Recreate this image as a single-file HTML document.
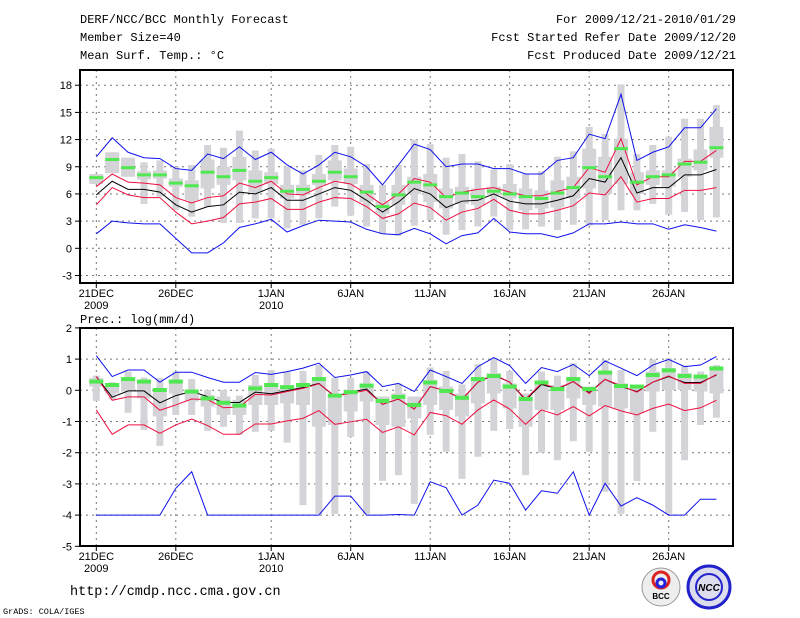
<!DOCTYPE html>
<html><head><meta charset="utf-8"><style>
body{margin:0;background:#fff;width:800px;height:618px;overflow:hidden}
svg{display:block}
text{font-family:"Liberation Sans",sans-serif;fill:#000}
.m{font-family:"Liberation Mono",monospace}
</style></head><body>
<svg id="c" width="800" height="618">
<text class="m" x="80" y="23" font-size="12">DERF/NCC/BCC Monthly Forecast</text>
<text class="m" x="80" y="41" font-size="12">Member Size=40</text>
<text class="m" x="80" y="59" font-size="12">Mean Surf. Temp.: °C</text>
<text class="m" x="736" y="23" font-size="12" text-anchor="end">For 2009/12/21-2010/01/29</text>
<text class="m" x="736" y="41" font-size="12" text-anchor="end">Fcst Started Refer Date 2009/12/20</text>
<text class="m" x="736" y="59" font-size="12" text-anchor="end">Fcst Produced Date 2009/12/21</text>
<text class="m" x="80" y="323" font-size="12">Prec.: log(mm/d)</text>
<text class="m" x="70" y="595" font-size="13.5">http://cmdp.ncc.cma.gov.cn</text>
<text class="m" x="3" y="614" font-size="8.5">GrADS: COLA/IGES</text>
<g><circle cx="661" cy="587" r="19" fill="#eee" stroke="#999"/><circle cx="661" cy="580" r="8" fill="none" stroke="#d22" stroke-width="3"/><circle cx="661" cy="583" r="4" fill="none" stroke="#22d" stroke-width="3"/><text x="661" y="599" font-size="8" text-anchor="middle" font-weight="bold">BCC</text></g>
<g><circle cx="709" cy="587" r="21" fill="#dde" stroke="#22c" stroke-width="3"/><circle cx="709" cy="587" r="13" fill="none" stroke="#22c" stroke-width="2"/><text x="709" y="591" font-size="10" text-anchor="middle" fill="#22c" font-style="italic" font-weight="bold">NCC</text></g>
</svg>
<script>
// ---------- Temperature panel data ----------
const tBlueUp=[10.1,12.2,10.6,10.0,9.9,8.8,8.6,10.4,9.9,11.2,9.8,10.6,9.2,8.2,9.2,10.6,10.1,9.0,7.0,9.2,11.5,10.9,9.0,9.3,9.3,8.8,8.8,8.2,8.2,9.7,10.0,12.6,12.1,17.0,9.7,10.6,11.2,13.3,13.3,15.4];
const tBlueLo=[1.6,3.0,2.8,2.7,2.7,1.1,-0.5,-0.5,0.6,2.3,2.7,3.2,1.8,2.5,3.1,3.0,2.9,2.1,1.6,1.5,2.2,1.6,0.5,1.4,1.7,3.3,1.8,1.6,1.6,1.2,1.7,2.7,2.7,2.9,2.7,2.7,2.1,2.6,2.3,1.9];
const tRedUp=[6.8,8.2,7.3,7.2,7.0,5.6,5.0,5.6,5.8,7.2,6.7,7.4,6.0,5.9,6.7,7.4,7.1,6.0,4.8,6.0,7.7,7.3,5.6,6.2,6.5,6.7,6.2,5.8,5.8,6.3,6.7,8.9,8.4,12.1,7.0,7.9,7.9,9.6,9.6,10.8];
const tMean=[5.9,7.4,6.5,6.5,6.2,4.8,4.0,4.6,4.8,6.2,6.0,6.7,5.3,5.3,6.0,6.7,6.4,5.3,4.0,5.1,6.6,6.0,4.5,5.2,5.3,6.0,5.2,4.9,4.9,5.3,5.8,7.7,7.3,10.0,6.1,6.7,6.7,8.1,8.1,8.7];
const tRedLo=[4.8,6.7,5.9,5.6,5.6,4.0,2.7,3.0,3.4,4.9,5.1,5.5,4.3,4.3,5.1,5.6,5.5,4.6,3.3,3.8,5.0,4.5,3.1,4.0,4.4,5.4,4.2,3.8,3.8,4.2,4.7,6.1,5.9,7.9,5.1,5.5,5.5,6.4,6.4,6.7];
const tObs=[7.8,9.8,8.9,8.1,8.1,7.2,6.9,8.4,7.9,8.6,7.4,7.8,6.3,6.5,7.4,8.4,7.9,6.2,4.6,5.9,7.3,7.0,5.7,6.1,5.7,6.3,6.0,5.7,5.5,6.1,6.7,8.9,7.9,11.0,7.3,7.9,8.1,9.3,9.5,11.1];
const tMax=[8.2,10.6,10.0,9.5,9.7,9.0,9.2,11.4,11.1,13.0,10.8,11.0,9.0,8.6,10.3,11.4,11.2,9.3,7.0,9.2,12.0,11.5,10.0,10.4,9.6,8.7,9.3,8.2,8.5,10.1,10.7,13.4,12.6,18.1,10.4,11.4,12.3,14.3,14.3,15.8];
const tMin=[7.1,8.3,7.9,4.9,5.7,4.2,3.5,4.6,2.8,2.8,3.3,3.3,2.2,2.6,3.3,4.6,3.6,2.4,1.6,1.4,2.5,3.1,1.5,2.0,2.4,3.5,2.0,2.1,2.4,2.0,2.6,2.5,3.1,4.2,4.2,4.9,3.7,4.0,3.1,3.4];
const tQ3=[8.2,10.6,10.0,8.5,8.6,7.7,7.5,9.8,9.0,10.1,8.6,8.4,7.0,7.0,8.2,9.7,8.8,7.0,5.1,7.0,7.9,8.2,6.6,6.8,6.6,6.8,7.1,6.6,6.4,7.5,7.9,11.0,10.1,12.1,8.4,8.6,8.6,9.9,10.9,13.4];
const tQ1=[7.1,8.3,7.9,7.6,7.7,6.8,5.3,6.6,7.0,7.5,6.2,7.1,5.5,5.9,7.0,7.5,7.1,5.1,3.8,4.8,6.0,5.1,4.4,4.9,4.8,5.9,5.5,4.2,4.4,4.5,5.5,6.6,6.0,7.1,6.0,7.0,6.8,7.9,8.6,10.0];
const tTicks=[18,15,12,9,6,3,0,-3];
// ---------- Precipitation panel data ----------
const pBlueUp=[1.11,.44,.65,.65,.26,.58,.58,.41,.26,.26,.57,.51,.60,.71,.87,.41,.49,.60,.12,.22,-.04,.65,.44,.22,.76,1.05,.79,.22,.73,.60,.83,.47,.94,.71,.47,.81,.99,.76,.81,1.08];
const pBlueLo=[-4,-4,-4,-4,-4,-3.14,-2.61,-4,-4,-4,-4,-4,-4,-4,-4,-3.39,-3.39,-4,-4,-3.98,-4,-2.93,-3.12,-4,-3.68,-2.88,-2.98,-3.84,-3.22,-3.3,-2.61,-4,-2.98,-3.71,-3.44,-3.68,-4,-4,-3.49,-3.49];
const pRedUp=[.44,-.32,-.21,-.21,-.64,-.47,-.28,-.30,-.56,-.53,-.13,-.15,-.04,.06,.21,-.18,-.10,0,-.45,-.28,-.60,.12,-.02,-.28,.26,.51,.26,-.28,.22,.06,.28,-.10,.35,.15,-.06,.26,.46,.22,.22,.51];
const pMean=[.44,-.22,-.02,-.02,-.40,-.17,-.04,-.20,-.39,-.39,-.06,-.11,-.01,.09,.22,-.20,-.06,.04,-.45,-.28,-.60,.12,-.02,-.29,.26,.49,.26,-.31,.19,.04,.28,-.07,.35,.12,-.04,.26,.44,.25,.25,.49];
const pRedLo=[-.63,-1.41,-1.11,-1.11,-1.38,-1.11,-.92,-1.13,-1.41,-1.41,-1.08,-1.08,-.98,-.90,-.65,-1.09,-1.01,-.93,-1.35,-1.17,-1.43,-.71,-.81,-1.09,-.63,-.31,-.60,-1.09,-.63,-.79,-.52,-.82,-.49,-.66,-.79,-.58,-.44,-.65,-.56,-.32];
const pObs=[.28,.17,.36,.28,.01,.28,-.04,-.26,-.40,-.49,.06,.17,.10,.17,.36,-.17,-.06,.15,-.34,-.21,-.47,.25,-.02,-.24,.36,.46,.12,-.28,.25,.04,.36,.04,.57,.14,.12,.49,.64,.46,.44,.70];
const pMax=[.47,.26,.60,.41,.39,.60,.36,.01,.01,-.17,.49,.65,.60,.62,.81,.39,.39,.60,-.26,.22,-.26,.73,.62,.19,.84,1.03,.62,-.10,.60,.47,.87,.12,.97,.65,.17,.99,1.03,.79,.60,.81];
const pMin=[-.34,-.29,-.72,-1.27,-1.78,-.79,-.79,-1.30,-1.17,-1.43,-1.33,-1.30,-1.68,-3.68,-3.96,-3.96,-1.49,-3.96,-2.90,-2.72,-3.64,-1.43,-1.97,-2.84,-2.13,-1.30,-1.24,-2.72,-2.00,-2.24,-1.63,-1.97,-3.25,-3.96,-2.91,-1.33,-3.96,-2.24,-1.11,-.88];
const pQ3=[.39,.22,.33,.33,.06,.33,.01,-.15,-.20,-.31,.17,.22,.17,.22,.39,-.10,.01,.22,-.20,-.10,-.20,.33,.12,-.10,.39,.55,.22,-.15,.28,.17,.41,.12,.60,.22,.17,.60,.71,.55,.49,.76];
const pQ1=[.12,-.10,-.04,-.26,-.84,-.10,-.36,-.52,-.79,-.79,-.47,-.47,-.42,-.47,-1.17,-1.11,-.68,-.36,-1.11,-1.17,-.90,-.47,-.63,-.84,-.42,-.10,-.58,-1.17,-.63,-.63,-.26,-.47,-.52,-.58,-.74,-.04,.01,.01,-.04,-.10];
const pTicks=[2,1,0,-1,-2,-3,-4,-5];
// ---------- Axis ----------
const dateLabels=["21DEC","26DEC","1JAN","6JAN","11JAN","16JAN","21JAN","26JAN"];
const yearLabels={0:"2009",2:"2010"};

const NS="http://www.w3.org/2000/svg";
const svg=document.getElementById('c');
const X0=80,X1=733;
function xDay(i){return 96.3+i*15.9;}
function mk(tag,attrs,parent){const e=document.createElementNS(NS,tag);for(const k in attrs)e.setAttribute(k,attrs[k]);(parent||svg).appendChild(e);return e;}

function panel(cfg){
  const g=mk('g',{});
  
  
  const y=v=>cfg.y0-v*cfg.k;
  cfg.ticks.forEach(t=>{
    const yy=y(t);
    if(yy>cfg.top+2&&yy<cfg.bot-2){const l=mk('line',{x1:X0,x2:X1,y1:yy,y2:yy,stroke:'#777','stroke-dasharray':'2,4'},g);
    
    }
    const tk=mk('line',{x1:X0-5,x2:X0,y1:yy,y2:yy,stroke:'#000'},g);
    
    
    const tx=mk('text',{x:72,y:yy+4,'font-size':11,'text-anchor':'end'},g);
    tx.textContent=t;
    
    
  });
  dateLabels.forEach((d,j)=>{
    const xx=xDay(j*5+(j>=2?1:0));
    const l=mk('line',{x1:xx,x2:xx,y1:cfg.top,y2:cfg.bot,stroke:'#777','stroke-dasharray':'2,4'},g);
    
    
    const tk=mk('line',{x1:xx,x2:xx,y1:cfg.bot,y2:cfg.bot+5,stroke:'#000'},g);
    
    
    const tx=mk('text',{x:xx,y:cfg.bot+14,'font-size':11,'text-anchor':'middle'},g);
    tx.textContent=d;
    
    
    if(yearLabels[j]){const ty=mk('text',{x:xx,y:cfg.bot+26,'font-size':11,'text-anchor':'middle'},g);
    ty.textContent=yearLabels[j];
    
    }
  });
  cfg.max.forEach((m,i)=>{
    const xx=xDay(i);
    const r=mk('rect',{x:xx-3.5,y:y(m),width:7,height:Math.max(1,y(cfg.min[i])-y(m)),fill:'#d4d4d8'},g);
    
    
    const q=mk('rect',{x:xx-7,y:y(cfg.q3[i]),width:14,height:Math.max(1,y(cfg.q1[i])-y(cfg.q3[i])),fill:'#d4d4d8'},g);
    
    
  });
  const line=(arr,col,nm,w)=>{
    const p=mk('polyline',{points:arr.map((v,i)=>xDay(i)+','+y(v)).join(' '),fill:'none',stroke:col,'stroke-width':w||1},g);
    
    
  };
  line(cfg.blueUp,'#1010ee','max-line');
  line(cfg.blueLo,'#1010ee','min-line');
  line(cfg.redLo,'#ee1040','lower-spread-line');
  line(cfg.mean,'#000','ensemble-mean-line');
  line(cfg.redUp,'#ee1040','upper-spread-line');
  cfg.obs.forEach((v,i)=>{
    const r=mk('rect',{x:xDay(i)-7,y:y(v)-cfg.gh/2,width:14,height:cfg.gh,fill:'#50e850'},g);
    
    
  });
  const f=mk('rect',{x:X0,y:cfg.top,width:X1-X0,height:cfg.bot-cfg.top,fill:'none',stroke:'#000','stroke-width':2},g);
  
  
}
panel({name:'temperature-panel',top:70,bot:283,y0:248.3,k:9.06,ticks:tTicks,gh:3,max:tMax,min:tMin,q3:tQ3,q1:tQ1,blueUp:tBlueUp,blueLo:tBlueLo,redUp:tRedUp,mean:tMean,redLo:tRedLo,obs:tObs});
panel({name:'precipitation-panel',top:328,bot:546,y0:390.3,k:31.2,ticks:pTicks,gh:4,max:pMax,min:pMin,q3:pQ3,q1:pQ1,blueUp:pBlueUp,blueLo:pBlueLo,redUp:pRedUp,mean:pMean,redLo:pRedLo,obs:pObs});
</script>
</body></html>
